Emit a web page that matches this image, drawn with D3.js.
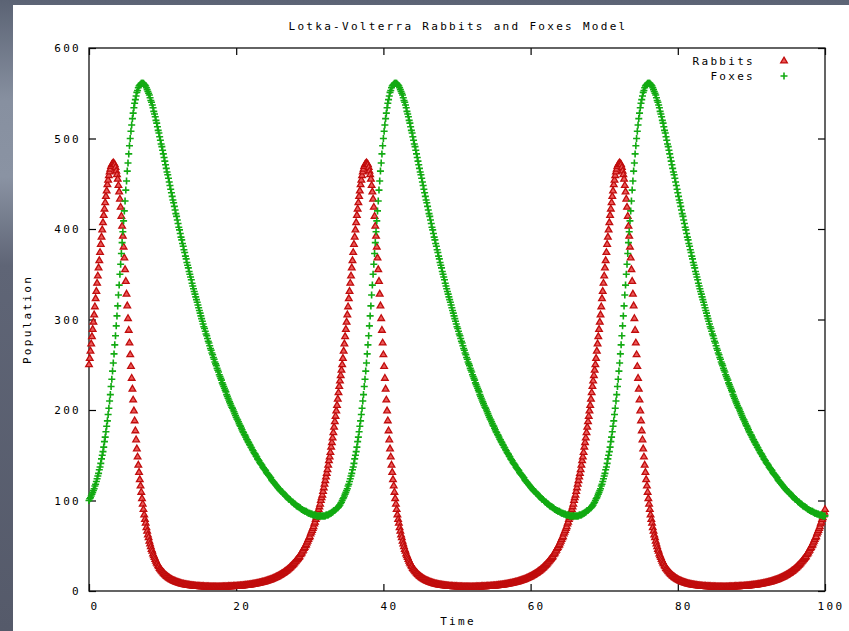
<!DOCTYPE html>
<html>
<head>
<meta charset="utf-8">
<script src="https://cdn.jsdelivr.net/npm/d3@7"></script>
<style>
  html, body { margin: 0; padding: 0; overflow: hidden; }
  body {
    width: 849px; height: 631px;
    background: linear-gradient(to bottom, #5b6374 0%, #8790a0 16%, #8a93a3 28%, #5f6576 42%, #555a6a 100%);
  }
  svg text { font-family: "DejaVu Sans Mono", monospace; font-size: 11px; letter-spacing: 2.3px; fill: #000; }
</style>
</head>
<body>
<svg id="chart" width="849" height="631"></svg>
<script>
// Population samples, one every 0.1 time units from t = 0 to t = 100
const rabbits = [
  250,257,265,273,281,289,297,305,314,323, 331,340,348,357,365,374,383,391,399,407,
  415,422,429,436,442,449,454,459,463,466, 469,471,472,473,472,471,468,464,460,455,
  448,441,433,424,414,403,392,380,368,355, 342,328,315,301,288,274,261,248,235,223,
  211,199,188,177,167,157,148,139,131,123, 116,109,102,96,90,84,79,75,70,66,
  62,59,55,52,49,46,44,41,39,37, 35,33,31,30,28,27,25,24,23,22,
  21,20,19.1,18.2,17.4,16.7,16,15.3,14.7,14.1, 13.5,13,12.6,12.1,11.6,11.2,10.8,10.5,10.1,9.8,
  9.5,9.2,8.9,8.6,8.4,8.1,7.9,7.7,7.5,7.3, 7.1,7,6.8,6.7,6.5,6.4,6.2,6.1,6,5.9,
  5.8,5.7,5.6,5.5,5.4,5.3,5.2,5.2,5.1,5, 5,4.9,4.9,4.8,4.8,4.7,4.7,4.6,4.6,4.6,
  4.5,4.5,4.5,4.5,4.4,4.4,4.4,4.4,4.4,4.4, 4.4,4.4,4.4,4.3,4.3,4.3,4.3,4.4,4.4,4.4,
  4.4,4.4,4.5,4.5,4.5,4.5,4.6,4.6,4.6,4.7, 4.7,4.7,4.8,4.8,4.9,4.9,5,5,5.1,5.1,
  5.2,5.2,5.3,5.4,5.4,5.5,5.6,5.7,5.7,5.8, 5.9,6,6.1,6.2,6.3,6.4,6.5,6.6,6.7,6.8,
  7,7.1,7.2,7.4,7.5,7.7,7.8,8,8.2,8.3, 8.5,8.7,8.9,9.1,9.3,9.5,9.7,9.9,10.1,10.4,
  10.6,10.9,11.1,11.4,11.7,12,12.3,12.6,12.9,13.2, 13.6,13.9,14.3,14.7,15.1,15.5,15.9,16.3,16.8,17.2,
  17.7,18.2,18.8,19.3,19.8,20.4,21,21.6,22.3,22.9, 23.6,24.3,25,25.8,26.6,27.4,28.2,29.1,30,30.9,
  32,33,34,35,36,37,38,40,41,42, 44,45,47,48,50,51,53,55,57,59,
  60,63,65,67,69,71,74,76,79,81, 84,87,90,93,96,100,103,106,110,114,
  118,122,126,130,134,139,144,148,153,159, 164,169,175,181,187,193,199,205,212,219,
  226,232,238,244,
  250,257,265,273,281,289,297,305,314,323, 331,340,348,357,365,374,383,391,399,407,
  415,422,429,436,442,449,454,459,463,466, 469,471,472,473,472,471,468,464,460,455,
  448,441,433,424,414,403,392,380,368,355, 342,328,315,301,288,274,261,248,235,223,
  211,199,188,177,167,157,148,139,131,123, 116,109,102,96,90,84,79,75,70,66,
  62,59,55,52,49,46,44,41,39,37, 35,33,31,30,28,27,25,24,23,22,
  21,20,19.1,18.2,17.4,16.7,16,15.3,14.7,14.1, 13.5,13,12.6,12.1,11.6,11.2,10.8,10.5,10.1,9.8,
  9.5,9.2,8.9,8.6,8.4,8.1,7.9,7.7,7.5,7.3, 7.1,7,6.8,6.7,6.5,6.4,6.2,6.1,6,5.9,
  5.8,5.7,5.6,5.5,5.4,5.3,5.2,5.2,5.1,5, 5,4.9,4.9,4.8,4.8,4.7,4.7,4.6,4.6,4.6,
  4.5,4.5,4.5,4.5,4.4,4.4,4.4,4.4,4.4,4.4, 4.4,4.4,4.4,4.3,4.3,4.3,4.3,4.4,4.4,4.4,
  4.4,4.4,4.5,4.5,4.5,4.5,4.6,4.6,4.6,4.7, 4.7,4.7,4.8,4.8,4.9,4.9,5,5,5.1,5.1,
  5.2,5.2,5.3,5.4,5.4,5.5,5.6,5.7,5.7,5.8, 5.9,6,6.1,6.2,6.3,6.4,6.5,6.6,6.7,6.8,
  7,7.1,7.2,7.4,7.5,7.7,7.8,8,8.2,8.3, 8.5,8.7,8.9,9.1,9.3,9.5,9.7,9.9,10.1,10.4,
  10.6,10.9,11.1,11.4,11.7,12,12.3,12.6,12.9,13.2, 13.6,13.9,14.3,14.7,15.1,15.5,15.9,16.3,16.8,17.2,
  17.7,18.2,18.8,19.3,19.8,20.4,21,21.6,22.3,22.9, 23.6,24.3,25,25.8,26.6,27.4,28.2,29.1,30,30.9,
  32,33,34,35,36,37,38,40,41,42, 44,45,47,48,50,51,53,55,57,59,
  60,63,65,67,69,71,74,76,79,81, 84,87,90,93,96,100,103,106,110,114,
  118,122,126,130,134,139,144,148,153,159, 164,169,175,181,187,193,199,205,212,219,
  226,232,238,244,
  250,257,265,273,281,289,297,305,314,323, 331,340,348,357,365,374,383,391,399,407,
  415,422,429,436,442,449,454,459,463,466, 469,471,472,473,472,471,468,464,460,455,
  448,441,433,424,414,403,392,380,368,355, 342,328,315,301,288,274,261,248,235,223,
  211,199,188,177,167,157,148,139,131,123, 116,109,102,96,90,84,79,75,70,66,
  62,59,55,52,49,46,44,41,39,37, 35,33,31,30,28,27,25,24,23,22,
  21,20,19.1,18.2,17.4,16.7,16,15.3,14.7,14.1, 13.5,13,12.6,12.1,11.6,11.2,10.8,10.5,10.1,9.8,
  9.5,9.2,8.9,8.6,8.4,8.1,7.9,7.7,7.5,7.3, 7.1,7,6.8,6.7,6.5,6.4,6.2,6.1,6,5.9,
  5.8,5.7,5.6,5.5,5.4,5.3,5.2,5.2,5.1,5, 5,4.9,4.9,4.8,4.8,4.7,4.7,4.6,4.6,4.6,
  4.5,4.5,4.5,4.5,4.4,4.4,4.4,4.4,4.4,4.4, 4.4,4.4,4.4,4.3,4.3,4.3,4.3,4.4,4.4,4.4,
  4.4,4.4,4.5,4.5,4.5,4.5,4.6,4.6,4.6,4.7, 4.7,4.7,4.8,4.8,4.9,4.9,5,5,5.1,5.1,
  5.2,5.2,5.3,5.4,5.4,5.5,5.6,5.7,5.7,5.8, 5.9,6,6.1,6.2,6.3,6.4,6.5,6.6,6.7,6.8,
  7,7.1,7.2,7.4,7.5,7.7,7.8,8,8.2,8.3, 8.5,8.7,8.9,9.1,9.3,9.5,9.7,9.9,10.1,10.4,
  10.6,10.9,11.1,11.4,11.7,12,12.3,12.6,12.9,13.2, 13.6,13.9,14.3,14.7,15.1,15.5,15.9,16.3,16.8,17.2,
  17.7,18.2,18.8,19.3,19.8,20.4,21,21.6,22.3,22.9, 23.6,24.3,25,25.8,26.6,27.4,28.2,29.1,30,30.9,
  32,33,34,35,36,37,38,40,41,42, 44,45,47,48,50,51,53,55,57,59,
  60,63,65,67,69,71,74,76,79,81, 84,87,90
];

const foxes = [
  100,102,103,105,107,109,111,113,116,118, 121,124,127,130,134,137,141,146,150,154,
  159,165,170,176,182,188,195,202,210,217, 226,234,243,252,262,272,282,293,304,315,
  327,338,350,361,373,385,397,409,420,431, 443,453,464,473,483,492,500,508,515,522,
  528,534,539,543,547,551,553,556,558,559, 560,561,561,561,561,560,559,558,556,554,
  552,550,548,545,542,540,537,534,530,527, 524,520,517,513,509,506,502,498,494,491,
  487,483,479,475,471,467,463,460,456,452, 448,444,440,436,432,429,425,421,417,414,
  410,406,402,399,395,391,388,384,381,377, 374,370,367,363,360,357,353,350,347,344,
  340,337,334,331,328,325,322,319,316,313, 310,307,304,301,298,295,292,290,287,284,
  282,279,276,274,271,268,266,263,261,258, 256,253,251,249,246,244,242,239,237,235,
  233,230,228,226,224,222,220,217,215,213, 211,209,207,205,203,202,200,198,196,194,
  192,190,189,187,185,183,182,180,178,176, 175,173,172,170,168,167,165,164,162,161,
  159,158,156,155,153,152,151,149,148,146, 145,144,142,141,140,139,137,136,135,134,
  133,131,130,129,128,127,126,125,123,122, 121,120,119,118,117,116,115,114,113,112,
  111,110,110,109,108,107,106,105,105,104, 103,102,101,101,100,99,98,98,97,96,
  96,95,94,94,93,93,92,92,91,90, 90,89,89,88,88,88,87,87,86,86,
  86,85,85,85,84,84,84,84,84,83, 83,83,83,83,83,83,83,83,83,83,
  83,83,84,84,84,84,85,85,86,86, 87,87,88,89,89,90,91,92,92,93,
  94,95,97,98,
  100,102,103,105,107,109,111,113,116,118, 121,124,127,130,134,137,141,146,150,154,
  159,165,170,176,182,188,195,202,210,217, 226,234,243,252,262,272,282,293,304,315,
  327,338,350,361,373,385,397,409,420,431, 443,453,464,473,483,492,500,508,515,522,
  528,534,539,543,547,551,553,556,558,559, 560,561,561,561,561,560,559,558,556,554,
  552,550,548,545,542,540,537,534,530,527, 524,520,517,513,509,506,502,498,494,491,
  487,483,479,475,471,467,463,460,456,452, 448,444,440,436,432,429,425,421,417,414,
  410,406,402,399,395,391,388,384,381,377, 374,370,367,363,360,357,353,350,347,344,
  340,337,334,331,328,325,322,319,316,313, 310,307,304,301,298,295,292,290,287,284,
  282,279,276,274,271,268,266,263,261,258, 256,253,251,249,246,244,242,239,237,235,
  233,230,228,226,224,222,220,217,215,213, 211,209,207,205,203,202,200,198,196,194,
  192,190,189,187,185,183,182,180,178,176, 175,173,172,170,168,167,165,164,162,161,
  159,158,156,155,153,152,151,149,148,146, 145,144,142,141,140,139,137,136,135,134,
  133,131,130,129,128,127,126,125,123,122, 121,120,119,118,117,116,115,114,113,112,
  111,110,110,109,108,107,106,105,105,104, 103,102,101,101,100,99,98,98,97,96,
  96,95,94,94,93,93,92,92,91,90, 90,89,89,88,88,88,87,87,86,86,
  86,85,85,85,84,84,84,84,84,83, 83,83,83,83,83,83,83,83,83,83,
  83,83,84,84,84,84,85,85,86,86, 87,87,88,89,89,90,91,92,92,93,
  94,95,97,98,
  100,102,103,105,107,109,111,113,116,118, 121,124,127,130,134,137,141,146,150,154,
  159,165,170,176,182,188,195,202,210,217, 226,234,243,252,262,272,282,293,304,315,
  327,338,350,361,373,385,397,409,420,431, 443,453,464,473,483,492,500,508,515,522,
  528,534,539,543,547,551,553,556,558,559, 560,561,561,561,561,560,559,558,556,554,
  552,550,548,545,542,540,537,534,530,527, 524,520,517,513,509,506,502,498,494,491,
  487,483,479,475,471,467,463,460,456,452, 448,444,440,436,432,429,425,421,417,414,
  410,406,402,399,395,391,388,384,381,377, 374,370,367,363,360,357,353,350,347,344,
  340,337,334,331,328,325,322,319,316,313, 310,307,304,301,298,295,292,290,287,284,
  282,279,276,274,271,268,266,263,261,258, 256,253,251,249,246,244,242,239,237,235,
  233,230,228,226,224,222,220,217,215,213, 211,209,207,205,203,202,200,198,196,194,
  192,190,189,187,185,183,182,180,178,176, 175,173,172,170,168,167,165,164,162,161,
  159,158,156,155,153,152,151,149,148,146, 145,144,142,141,140,139,137,136,135,134,
  133,131,130,129,128,127,126,125,123,122, 121,120,119,118,117,116,115,114,113,112,
  111,110,110,109,108,107,106,105,105,104, 103,102,101,101,100,99,98,98,97,96,
  96,95,94,94,93,93,92,92,91,90, 90,89,89,88,88,88,87,87,86,86,
  86,85,85,85,84,84,84,84,84,83, 83,83,83
];

const timeStep = 0.1;
const timeTicks = [0, 20, 40, 60, 80, 100];
const populationTicks = [0, 100, 200, 300, 400, 500, 600];
const seriesNames = ["Rabbits", "Foxes"];

const width = 849, height = 631;
const margin = { top: 48, right: 24, bottom: 40, left: 89 };
const tickLen = 7;
const colors = { Rabbits: "#dc1010", Foxes: "#12aa12" };

const svg = d3.select("#chart");

// White chart panel over the page background
svg.append("rect")
    .attr("x", 13).attr("y", 5)
    .attr("width", width - 13).attr("height", height - 5)
    .attr("fill", "#fff");

const x = d3.scaleLinear().domain([0, 100]).range([margin.left, width - margin.right]);
const y = d3.scaleLinear().domain([0, 600]).range([height - margin.bottom, margin.top]);

// Axes with inward ticks, mirrored on top and right
svg.append("g")
    .attr("transform", `translate(0,${y(0)})`)
    .call(d3.axisBottom(x).tickValues(timeTicks).tickSizeInner(-tickLen).tickSizeOuter(0).tickPadding(11))
    .call(g => g.selectAll("text").attr("dx", 5.5));

svg.append("g")
    .attr("transform", `translate(0,${y(600)})`)
    .call(d3.axisTop(x).tickValues(timeTicks).tickSizeInner(-tickLen).tickSizeOuter(0).tickFormat(() => ""));

svg.append("g")
    .attr("transform", `translate(${x(0)},0)`)
    .call(d3.axisLeft(y).tickValues(populationTicks).tickSizeInner(-tickLen).tickSizeOuter(0).tickPadding(8));

svg.append("g")
    .attr("transform", `translate(${x(100)},0)`)
    .call(d3.axisRight(y).tickValues(populationTicks).tickSizeInner(-tickLen).tickSizeOuter(0).tickFormat(() => ""));

svg.selectAll(".domain").remove();
svg.selectAll(".tick line").attr("stroke", "#000").attr("stroke-width", 1.2);

// Plot border
svg.append("rect")
    .attr("x", x(0)).attr("y", y(600))
    .attr("width", x(100) - x(0)).attr("height", y(0) - y(600))
    .attr("fill", "none").attr("stroke", "#111").attr("stroke-width", 1.3);

// Marker shapes
const triangle = d3.symbol().type(d3.symbolTriangle).size(19);
const plusPath = "M-3.5,0H3.5M0,-3.5V3.5";

// Rabbits
svg.append("g").selectAll("path")
    .data(rabbits)
    .join("path")
    .attr("d", triangle)
    .attr("transform", (d, i) => `translate(${x(i * timeStep)},${y(d)})`)
    .attr("fill", "#ec5a5a")
    .attr("stroke", "#c00c0c")
    .attr("stroke-width", 1.3);

// Foxes
svg.append("g").selectAll("path")
    .data(foxes)
    .join("path")
    .attr("d", plusPath)
    .attr("transform", (d, i) => `translate(${x(i * timeStep)},${y(d)})`)
    .attr("fill", "none")
    .attr("stroke", colors.Foxes)
    .attr("stroke-width", 1.6);

// Title and axis labels
svg.append("text")
    .attr("x", (x(0) + x(100)) / 2 + 1)
    .attr("y", 30)
    .attr("text-anchor", "middle")
    .text("Lotka-Volterra Rabbits and Foxes Model");

svg.append("text")
    .attr("x", (x(0) + x(100)) / 2 + 1)
    .attr("y", 625)
    .attr("text-anchor", "middle")
    .text("Time");

svg.append("text")
    .attr("transform", `translate(31,${(y(0) + y(600)) / 2}) rotate(-90)`)
    .attr("text-anchor", "middle")
    .text("Population");

// Legend
const legend = svg.append("g").selectAll("g")
    .data(seriesNames)
    .join("g")
    .attr("transform", (d, i) => `translate(0,${61 + i * 15})`);

legend.append("text")
    .attr("x", 755)
    .attr("dy", "0.35em")
    .attr("text-anchor", "end")
    .text(d => d);

legend.append("path")
    .attr("transform", "translate(784,0)")
    .attr("d", d => d === "Rabbits" ? triangle() : plusPath)
    .attr("fill", d => d === "Rabbits" ? "#ec5a5a" : "none")
    .attr("stroke", d => d === "Rabbits" ? "#c00c0c" : colors.Foxes)
    .attr("stroke-width", d => d === "Rabbits" ? 1.3 : 1.6);
</script>
</body>
</html>
